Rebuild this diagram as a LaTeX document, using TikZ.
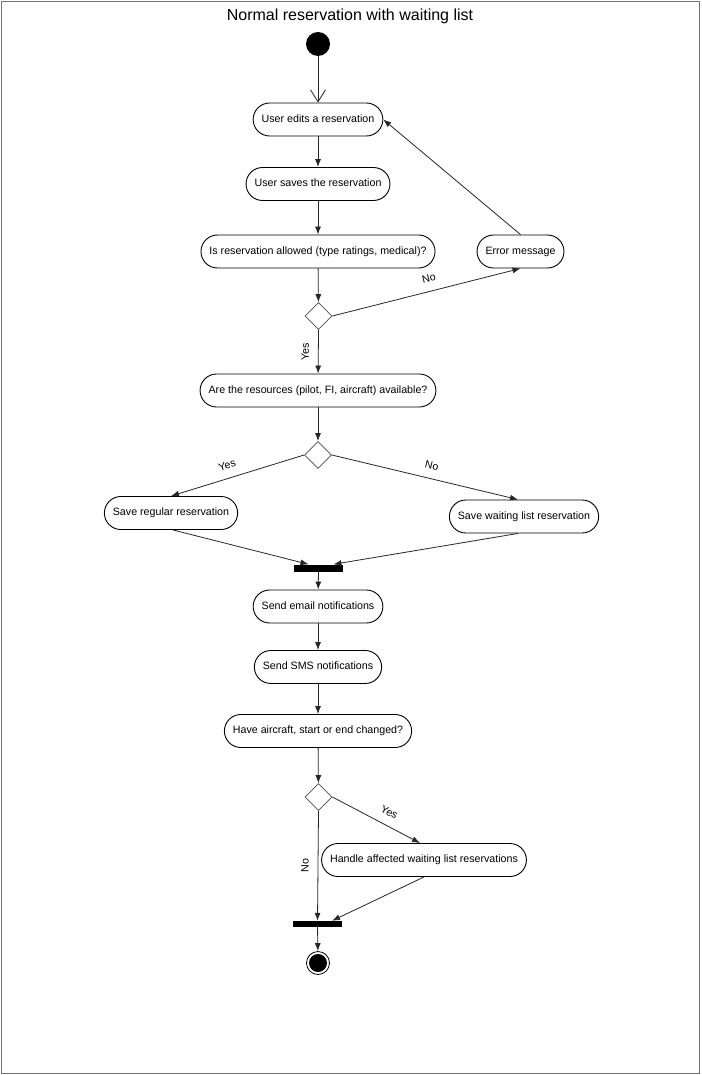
\documentclass[tikz,border=0pt]{standalone}
\usepackage{fontspec}
\setmainfont{Liberation Sans}
\usetikzlibrary{shapes.geometric,arrows.meta,calc}
\begin{document}
\begin{tikzpicture}[x=1pt,y=-1pt,
  act/.style={draw=black, line width=0.9pt, rounded corners=16.5pt, minimum height=33pt,
    inner xsep=8.5pt, font=\fontsize{10.67}{12}\selectfont, text height=7.8pt, text depth=2.2pt},
  dec/.style={diamond, draw=black!70, line width=0.8pt, minimum width=27pt, minimum height=27pt, inner sep=0pt},
  bar/.style={fill=black, draw=none, minimum width=49pt, minimum height=7pt, inner sep=0pt},
  flow/.style={line width=0.8pt, draw=black!85, -{Latex[length=8pt,width=6pt]}},
  lbl/.style={font=\fontsize{10.67}{12}\selectfont, inner sep=0pt},
]
\useasboundingbox (0,0) rectangle (701,1075);
\draw[draw=black!55, line width=1.6pt] (1.5,1.5) rectangle (699.5,1073.5);

\node[font=\fontsize{16}{19}\selectfont, anchor=base] (title) at (350,21) {Normal reservation with waiting list};

\node[circle, fill=black, minimum size=24pt, inner sep=0pt] (start) at (318,44) {};
\node[act] (n1) at (318,119.5) {User edits a reservation};
\node[act] (n2) at (318,184) {User saves the reservation};
\node[act] (n3) at (318,251.5) {Is reservation allowed (type ratings, medical)?};
\node[act] (err) at (520.5,251.5) {Error message};
\node[dec] (d1) at (318.5,316) {};
\node[act] (n4) at (318,390.5) {Are the resources (pilot, FI, aircraft) available?};
\node[dec] (d2) at (318,455) {};
\node[act] (sr) at (171,513) {Save regular reservation};
\node[act] (sw) at (524,516.5) {Save waiting list reservation};
\node[bar] (f1) at (318.5,568) {};
\node[act] (em) at (318,606.5) {Send email notifications};
\node[act] (sms) at (318,667) {Send SMS notifications};
\node[act] (ch) at (318,731) {Have aircraft, start or end changed?};
\node[dec] (d3) at (318.5,797) {};
\node[act] (ha) at (424,860) {Handle affected waiting list reservations};
\node[bar, minimum height=6pt] (f2) at (317.5,924) {};
\node[circle, draw=black, line width=0.8pt, minimum size=23pt, inner sep=0pt] (endo) at (318,963) {};
\node[circle, fill=black, minimum size=18pt, inner sep=0pt] (endi) at (318,963) {};

\draw[line width=0.8pt, draw=black!85, -{Straight Barb[length=12pt,width=15pt]}] (start) -- (n1);
\draw[flow] (n1) -- (n2);
\draw[flow] (n2) -- (n3);
\draw[flow] (n3) -- (d1);
\draw[flow] (d1.east) -- node[lbl, sloped, above=9pt, pos=0.53] {No} (err.south);
\draw[flow] (err.north) -- (n1.east);
\draw[flow] (d1.south) -- node[lbl, rotate=90, anchor=south, yshift=9pt] {Yes} (n4);
\draw[flow] (n4) -- (d2);
\draw[flow] (d2.west) -- node[lbl, sloped, above=9pt, pos=0.55] {Yes} (sr.north);
\draw[flow] (d2.east) -- node[lbl, sloped, above=9pt, pos=0.52] {No} ($(sw.north)+(-6pt,0)$);
\draw[flow] ($(sr.south)+(2pt,0)$) -- ($(f1.north)+(-10pt,0)$);
\draw[flow] ($(sw.south)+(-6pt,0)$) -- ($(f1.north)+(15pt,0)$);
\draw[flow] (f1) -- (em);
\draw[flow] (em) -- (sms);
\draw[flow] (sms) -- (ch);
\draw[flow] (ch) -- (d3);
\draw[flow] (d3.east) -- node[lbl, sloped, above=9pt, pos=0.58] {Yes} ($(ha.north)+(-4pt,0)$);
\draw[flow] (d3.south) -- node[lbl, rotate=90, anchor=south, yshift=9pt] {No} (f2.north);
\draw[flow] (ha.south) -- ($(f2.north)+(14.5pt,0)$);
\draw[flow] (f2) -- (endo);
\end{tikzpicture}
\end{document}
